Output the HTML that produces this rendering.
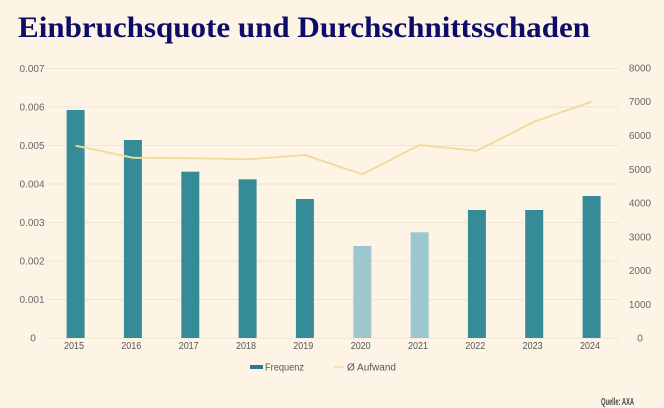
<!DOCTYPE html>
<html>
<head>
<meta charset="utf-8">
<style>
  html,body{margin:0;padding:0;background:#fdf4e6;}
  svg{display:block;}
  .sans{font-family:"Liberation Sans",sans-serif;}
</style>
</head>
<body>
<svg width="664" height="408" viewBox="0 0 664 408" xmlns="http://www.w3.org/2000/svg">
  <rect x="0" y="0" width="664" height="408" fill="#fdf4e6"/>
  <text x="18" y="37" style="font-family:'Liberation Serif',serif;font-weight:bold;font-size:30px" fill="#0c0c6a" textLength="572" lengthAdjust="spacingAndGlyphs">Einbruchsquote und Durchschnittsschaden</text>

  <!-- gridlines -->
  <g stroke="#efe5d3" stroke-width="1">
    <line x1="46" y1="68.5" x2="619" y2="68.5"/>
    <line x1="46" y1="107" x2="619" y2="107"/>
    <line x1="46" y1="145.5" x2="619" y2="145.5"/>
    <line x1="46" y1="184" x2="619" y2="184"/>
    <line x1="46" y1="222.5" x2="619" y2="222.5"/>
    <line x1="46" y1="261" x2="619" y2="261"/>
    <line x1="46" y1="299.5" x2="619" y2="299.5"/>
    <line x1="46" y1="338" x2="619" y2="338"/>
  </g>

  <!-- left axis labels -->
  <g class="sans" font-size="10" fill="#666" text-anchor="middle">
    <text x="32" y="72">0.007</text>
    <text x="32" y="110.5">0.006</text>
    <text x="32" y="149">0.005</text>
    <text x="32" y="187.5">0.004</text>
    <text x="32" y="226">0.003</text>
    <text x="32" y="264.5">0.002</text>
    <text x="32" y="303">0.001</text>
    <text x="33" y="341.5">0</text>
  </g>
  <!-- right axis labels -->
  <g class="sans" font-size="10" fill="#666" text-anchor="middle">
    <text x="640" y="71.5">8000</text>
    <text x="640" y="105">7000</text>
    <text x="640" y="139">6000</text>
    <text x="640" y="173">5000</text>
    <text x="640" y="206.5">4000</text>
    <text x="640" y="240.5">3000</text>
    <text x="640" y="274">2000</text>
    <text x="640" y="308">1000</text>
    <text x="640" y="341.5">0</text>
  </g>

  <!-- bars -->
  <g>
    <rect x="66.6" y="110" width="18" height="228" fill="#358b98"/>
    <rect x="123.9" y="140" width="18" height="198" fill="#358b98"/>
    <rect x="181.3" y="171.7" width="18" height="166.3" fill="#358b98"/>
    <rect x="238.6" y="179.3" width="18" height="158.7" fill="#358b98"/>
    <rect x="295.9" y="199" width="18" height="139" fill="#358b98"/>
    <rect x="353.3" y="246" width="18" height="92" fill="#9cc7cf"/>
    <rect x="410.6" y="232.3" width="18" height="105.7" fill="#9cc7cf"/>
    <rect x="467.9" y="210" width="18" height="128" fill="#358b98"/>
    <rect x="525.2" y="210" width="18" height="128" fill="#358b98"/>
    <rect x="582.6" y="196" width="18" height="142" fill="#358b98"/>
  </g>

  <!-- line -->
  <polyline fill="none" stroke="#f1dca0" stroke-width="2" stroke-linejoin="round"
    points="75.6,145.7 132.9,157.7 190.3,158.3 247.6,159.3 304.9,155 362.3,174.3 419.6,145 476.9,150.7 534.2,121.7 591.6,101.7"/>

  <!-- x labels -->
  <g class="sans" font-size="10" fill="#555" text-anchor="middle">
    <text x="74" y="349" textLength="20" lengthAdjust="spacingAndGlyphs">2015</text>
    <text x="131.3" y="349" textLength="20" lengthAdjust="spacingAndGlyphs">2016</text>
    <text x="188.7" y="349" textLength="20" lengthAdjust="spacingAndGlyphs">2017</text>
    <text x="246" y="349" textLength="20" lengthAdjust="spacingAndGlyphs">2018</text>
    <text x="303.3" y="349" textLength="20" lengthAdjust="spacingAndGlyphs">2019</text>
    <text x="360.7" y="349" textLength="20" lengthAdjust="spacingAndGlyphs">2020</text>
    <text x="418" y="349" textLength="20" lengthAdjust="spacingAndGlyphs">2021</text>
    <text x="475.3" y="349" textLength="20" lengthAdjust="spacingAndGlyphs">2022</text>
    <text x="532.6" y="349" textLength="20" lengthAdjust="spacingAndGlyphs">2023</text>
    <text x="590" y="349" textLength="20" lengthAdjust="spacingAndGlyphs">2024</text>
  </g>

  <!-- legend -->
  <rect x="250" y="365" width="13" height="4" fill="#2c7c88"/>
  <text class="sans" x="265" y="370.5" font-size="10" fill="#555" textLength="39" lengthAdjust="spacingAndGlyphs">Frequenz</text>
  <line x1="334" y1="367" x2="344" y2="367" stroke="#f1dca0" stroke-width="1.5"/>
  <text class="sans" x="347" y="370.5" font-size="10" fill="#555" textLength="49" lengthAdjust="spacingAndGlyphs">Ø Aufwand</text>

  <!-- source -->
  <text class="sans" x="601" y="405" font-size="10" font-weight="bold" fill="#444" textLength="33" lengthAdjust="spacingAndGlyphs">Quelle: AXA</text>
</svg>
</body>
</html>
